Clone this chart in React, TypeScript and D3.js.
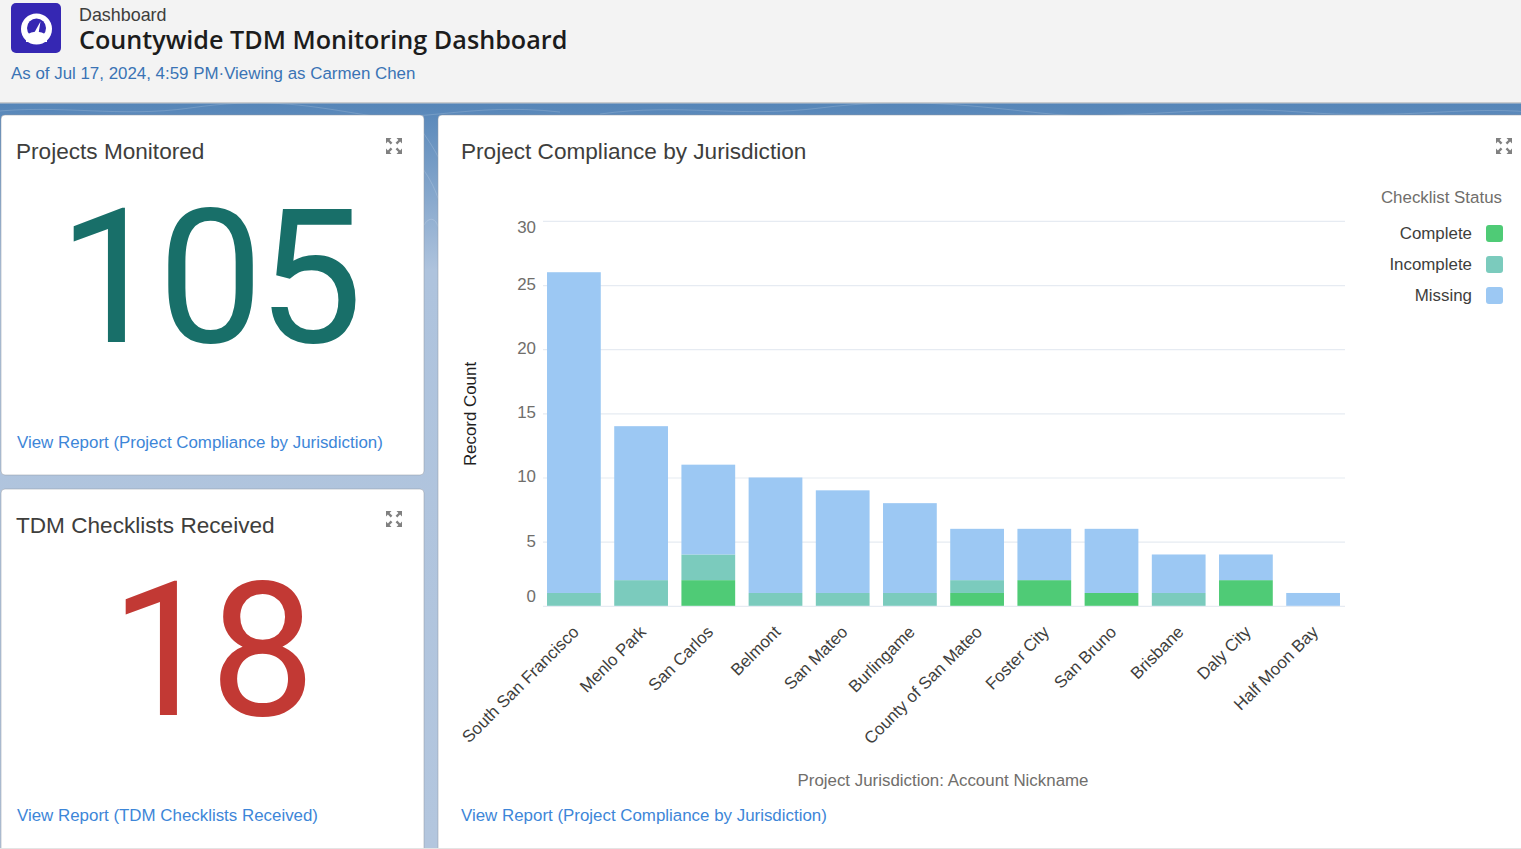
import { useEffect, useRef } from 'react';
import * as d3 from 'd3';

const width = 1521;
const height = 849;

const jurisdictions = [
    'South San Francisco', 'Menlo Park', 'San Carlos', 'Belmont', 'San Mateo', 'Burlingame',
    'County of San Mateo', 'Foster City', 'San Bruno', 'Brisbane', 'Daly City', 'Half Moon Bay',
];
const complete = [0, 0, 2, 0, 0, 0, 1, 2, 1, 0, 2, 0];
const incomplete = [1, 2, 2, 1, 1, 1, 1, 0, 0, 1, 0, 0];
const missing = [25, 12, 7, 9, 8, 7, 4, 4, 5, 3, 2, 1];

const statusNames = ['Complete', 'Incomplete', 'Missing'];
const statusColors = ['#4fcb76', '#7bcbbd', '#9cc8f3'];
const yTicks = [0, 5, 10, 15, 20, 25, 30];

const sans = '"Liberation Sans", Arial, sans-serif';
const linkColor = '#3d86d8';
const smallFont = 16.9;
const titleFont = 22.6;

// faint contour lines of the page background
const contours = [
    'M-10,112 C60,104 120,118 190,108 S300,104 360,114 S470,102 560,112',
    'M600,114 C680,103 740,118 820,108 S960,104 1040,113 S1200,104 1300,112 S1460,106 1530,112',
    'M418,125 C428,140 436,150 444,170',
    'M420,165 C430,178 436,190 442,210',
    'M424,225 C430,215 438,218 440,235',
];

// the four-arrow icon in the corner of each card
const ExpandIcon = ({ x, y }: { x: number; y: number }) => (
    <g transform={`translate(${x},${y})`} fill="#808080">
        {[0, 90, 180, 270].map(r => (
            <g key={r} transform={`rotate(${r})`}>
                <path d="M-8,-8 L-2.5,-8 L-4.4,-6.1 L-1.6,-3.3 L-3.3,-1.6 L-6.1,-4.4 L-8,-2.5 Z" />
            </g>
        ))}
    </g>
);

const Card = ({ x, y, w, h }: { x: number; y: number; w: number; h: number }) => (
    <rect x={x} y={y} width={w} height={h} rx={4} fill="#ffffff" stroke="#8f98a3" strokeOpacity={0.5} />
);

const App = () => {
    const plotRef = useRef<SVGGElement | null>(null);

    useEffect(() => {
        const g = d3.select(plotRef.current);
        g.selectAll('*').remove();

        const x = d3.scaleBand()
            .domain(jurisdictions)
            .range([540.3, 1346.7])
            .paddingInner(0.2)
            .paddingOuter(0.1);

        const y = d3.scaleLinear().domain([0, 30]).range([605.8, 220.9]);

        const rows = jurisdictions.map((name, i) => ({
            name,
            Complete: complete[i],
            Incomplete: incomplete[i],
            Missing: missing[i],
        }));
        const stacked = d3.stack<any>().keys(statusNames)(rows);

        // gridlines and y labels (first and last labels are pulled inside the axis)
        const yAxis = d3.axisLeft(y).tickValues(yTicks).tickSize(0).tickPadding(0);
        const yGroup = g.append('g')
            .attr('transform', 'translate(536,0)')
            .call(yAxis);
        yGroup.select('.domain').remove();
        yGroup.selectAll<SVGTextElement, number>('text')
            .attr('font-family', sans)
            .attr('font-size', smallFont)
            .attr('fill', '#706e6b')
            .attr('dy', d => (d === 0 ? -4.5 : d === 30 ? 11.5 : d === 5 ? 5 : 4.2));
        yGroup.selectAll('.tick').append('line')
            .attr('x1', 7)
            .attr('x2', 809)
            .attr('stroke', '#e6ebf2')
            .attr('stroke-width', 1.2);

        // stacked bars
        g.append('g')
            .selectAll('g')
            .data(stacked)
            .join('g')
            .attr('fill', (_, i) => statusColors[i])
            .selectAll('rect')
            .data(d => d.filter(s => s[1] > s[0]))
            .join('rect')
            .attr('x', d => x((d.data as any).name)!)
            .attr('y', d => y(d[1]))
            .attr('width', x.bandwidth())
            .attr('height', d => y(d[0]) - y(d[1]));

        // category labels
        const xGroup = g.append('g')
            .attr('transform', 'translate(0,606)')
            .call(d3.axisBottom(x).tickSize(0));
        xGroup.select('.domain').remove();
        xGroup.selectAll('text')
            .attr('font-family', sans)
            .attr('font-size', smallFont)
            .attr('fill', '#3e3e3c')
            .attr('text-anchor', 'end')
            .attr('dy', 0)
            .attr('y', 0)
            .attr('transform', 'translate(6,27) rotate(-45)');
    }, []);

    return (
        <svg
            width={width}
            height={height}
            viewBox={`0 0 ${width} ${height}`}
            style={{ position: 'absolute', left: 0, top: 0, display: 'block' }}
            fontFamily={sans}
        >
            <defs>
                <linearGradient id="bg" x1="0" y1="103" x2="0" y2="849" gradientUnits="userSpaceOnUse">
                    <stop offset="0" stopColor="#5585b8" />
                    <stop offset="0.224" stopColor="#aec3dd" />
                    <stop offset="1" stopColor="#b3c6de" />
                </linearGradient>
            </defs>

            <rect width={width} height={height} fill="url(#bg)" />
            <g fill="none" stroke="#ffffff" strokeOpacity={0.16} strokeWidth={1}>
                {contours.map(d => <path key={d} d={d} />)}
            </g>

            {/* page header */}
            <rect width={width} height={102} fill="#f3f3f3" />
            <rect y={102} width={width} height={1.5} fill="#c9cbcd" />
            <rect x={11} y={3} width={50} height={50} rx={5} fill="#3527b3" />
            <circle cx={36.5} cy={29} r={15.5} fill="#ffffff" />
            <circle cx={36.5} cy={28} r={9.5} fill="#3527b3" />
            <path d="M26,35 Q36.5,28 47,35 L47,42 L26,42 Z" fill="#ffffff" />
            <path d="M33,35 L40.5,21.5 L38,36.5 Z" fill="#ffffff" />
            <text x={79} y={21} fontSize={17.9} fill="#3e3e3c">Dashboard</text>
            <text x={79} y={49} fontSize={25.2} fontWeight={600} fontFamily='"Open Sans", sans-serif' fill="#1c1c1c">
                Countywide TDM Monitoring Dashboard
            </text>
            <text x={11} y={79} fontSize={smallFont} fill="#3a73b5">As of Jul 17, 2024, 4:59 PM·Viewing as Carmen Chen</text>

            {/* cards */}
            <Card x={1} y={115} w={423} h={360} />
            <Card x={1} y={489} w={423} h={370} />
            <Card x={438} y={115} w={1090} h={744} />
            <rect y={848} width={width} height={1} fill="#e4e4e4" />

            {/* metric cards */}
            <text x={16} y={159} fontSize={titleFont} fill="#3e3e3c">Projects Monitored</text>
            <ExpandIcon x={394} y={146} />
            <text x={58} y={342} fontSize={188} letterSpacing={-6} fontFamily="Roboto, sans-serif" fill="#186f69">105</text>
            <text x={17} y={448} fontSize={smallFont} fill={linkColor}>View Report (Project Compliance by Jurisdiction)</text>

            <text x={16} y={533} fontSize={titleFont} fill="#3e3e3c">TDM Checklists Received</text>
            <ExpandIcon x={394} y={519} />
            <text x={110} y={715} fontSize={188} letterSpacing={-6} fontFamily="Roboto, sans-serif" fill="#c23934">18</text>
            <text x={17} y={821} fontSize={smallFont} fill={linkColor}>View Report (TDM Checklists Received)</text>

            {/* chart card */}
            <text x={461} y={159} fontSize={titleFont} fill="#3e3e3c">Project Compliance by Jurisdiction</text>
            <ExpandIcon x={1504} y={146} />
            <g ref={plotRef} />
            <text transform="translate(476,414) rotate(-90)" fontSize={smallFont} textAnchor="middle" fill="#1f1f1f">
                Record Count
            </text>
            <text x={943} y={786} fontSize={smallFont} textAnchor="middle" fill="#706e6b">
                Project Jurisdiction: Account Nickname
            </text>
            <text x={461} y={821} fontSize={smallFont} fill={linkColor}>View Report (Project Compliance by Jurisdiction)</text>

            {/* legend */}
            <text x={1502} y={203} fontSize={smallFont} textAnchor="end" fill="#706e6b">Checklist Status</text>
            {statusNames.map((name, i) => (
                <g key={name} transform={`translate(0,${233 + i * 31})`}>
                    <text x={1472} y={6} fontSize={smallFont} textAnchor="end" fill="#3e3e3c">{name}</text>
                    <rect x={1486} y={-8} width={17} height={17} rx={3} fill={statusColors[i]} />
                </g>
            ))}
        </svg>
    );
};

export default App;
